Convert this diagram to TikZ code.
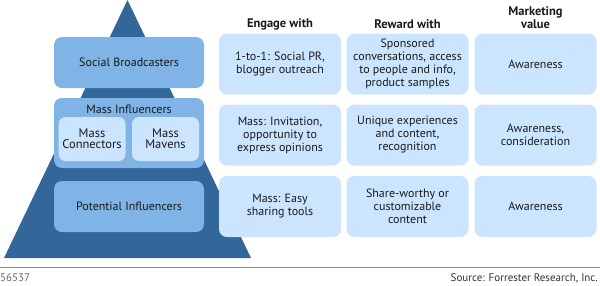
\documentclass[tikz,border=0pt]{standalone}
\usepackage{fontspec}
\setmainfont{PT Sans}
\usepackage{tikz}
\usetikzlibrary{positioning}

\definecolor{pyramid}{HTML}{336699}
\definecolor{midblue}{HTML}{80B3E6}
\definecolor{lightblue}{HTML}{CCE5FF}
\definecolor{txt}{HTML}{1A1A1A}

\tikzset{
    level/.style={fill=midblue, rounded corners=8pt, minimum width=150pt, minimum height=51pt, text=txt, font=\fontsize{12}{13}\selectfont},
    sublevel/.style={fill=lightblue, rounded corners=7pt, minimum width=67pt, minimum height=44pt, inner sep=1pt, align=center, text=txt, font=\fontsize{12.5}{11}\selectfont},
    cell/.style={fill=lightblue, rounded corners=8pt, minimum width=122pt, minimum height=61pt, inner sep=1pt, align=center, text=txt, font=\fontsize{12}{13}\selectfont},
    header/.style={align=center, text=txt, font=\fontsize{12.5}{13}\selectfont\bfseries}
}

\begin{document}
\begin{tikzpicture}[x=1pt, y=-1pt]
    \useasboundingbox (0,0) rectangle (600,285);

    % pyramid
    \fill[pyramid] (127.5,0) -- (251,258) -- (4,258) -- cycle;

    % levels of the pyramid
    \node[level] (social) at (129,62.5) {Social Broadcasters};
    \node[level, minimum height=70pt] (mass) at (129,133) {};
    \node[text=txt, font=\fontsize{12}{13}\selectfont] (masslabel) at (129,109) {Mass Influencers};
    \node[sublevel] (connectors) at (92,139) {Mass\\Connectors};
    \node[sublevel] (mavens) at (165.5,139) {Mass\\Mavens};
    \node[level] (potential) at (129,206.5) {Potential Influencers};

    % column headers
    \node[header] (engage) at (280,24) {Engage with};
    \node[header] (reward) at (407.5,24) {Reward with};
    \node[header] (value) at (535.5,17.5) {Marketing\\value};

    % row 1
    \node[cell] (e1) at (280,64) {1-to-1: Social PR,\\blogger outreach};
    \node[cell] (r1) at (407.5,64) {Sponsored\\conversations, access\\to people and info,\\product samples};
    \node[cell] (v1) at (535.5,64) {Awareness};

    % row 2
    \node[cell] (e2) at (280,135) {Mass: Invitation,\\opportunity to\\express opinions};
    \node[cell] (r2) at (407.5,135) {Unique experiences\\and content,\\recognition};
    \node[cell] (v2) at (535.5,135) {Awareness,\\consideration};

    % row 3
    \node[cell] (e3) at (280,206.5) {Mass: Easy\\sharing tools};
    \node[cell] (r3) at (407.5,206.5) {Share-worthy or\\customizable\\content};
    \node[cell] (v3) at (535.5,206.5) {Awareness};

    % footer
    \draw[line width=1.5pt, black!45] (0,267.5) -- (600,267.5);
    \node[anchor=west, inner sep=0pt, text=black!60, font=\fontsize{11}{12}\selectfont] (figid) at (0,278) {56537};
    \node[anchor=east, inner sep=0pt, text=black!80, font=\fontsize{11}{12}\selectfont] (source) at (598,278) {Source: Forrester Research, Inc.};
\end{tikzpicture}
\end{document}
